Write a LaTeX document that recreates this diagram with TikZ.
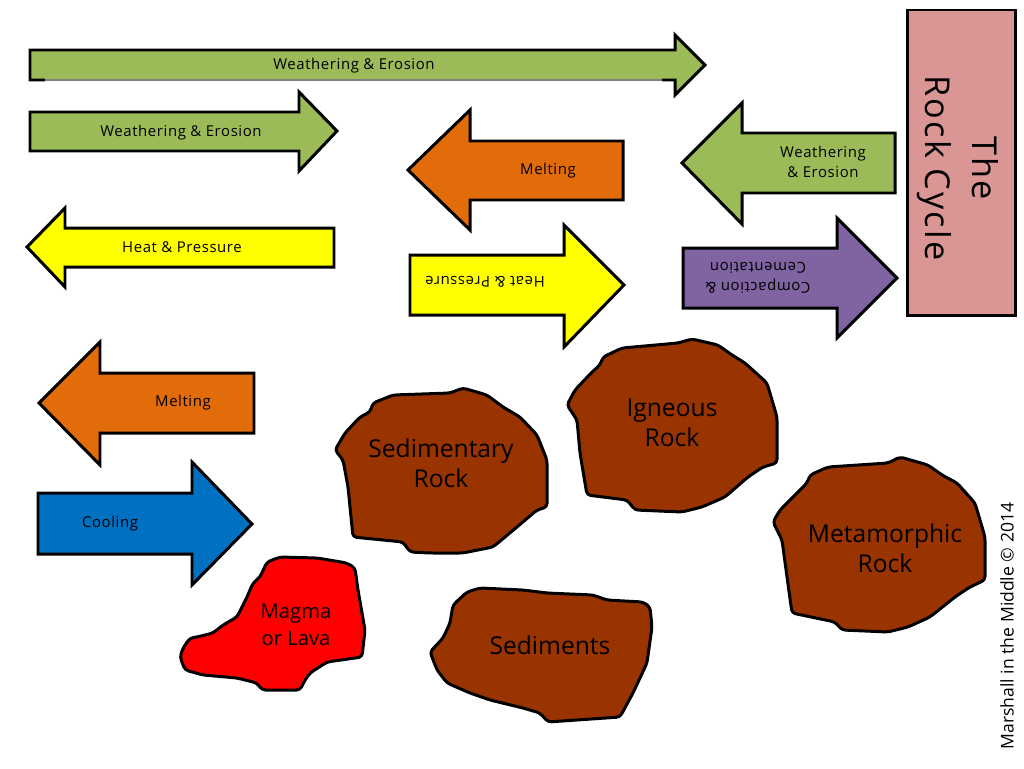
\documentclass[tikz,border=0pt]{standalone}
\usepackage{fontspec}
\setmainfont{Open Sans}
\definecolor{weathergreen}{HTML}{9BBB59}
\definecolor{meltorange}{HTML}{E36C0A}
\definecolor{heatyellow}{HTML}{FFFF00}
\definecolor{compactpurple}{HTML}{8064A2}
\definecolor{coolblue}{HTML}{0070C0}
\definecolor{titlepink}{HTML}{D99694}
\definecolor{rockbrown}{HTML}{993300}
\definecolor{magmared}{HTML}{FF0000}
\begin{document}
\begin{tikzpicture}[
  x=0.02cm, y=-0.02cm,
  every node/.style={align=center, inner sep=0pt},
  arrowbox/.style={draw=black, line width=1.7pt, line join=miter},
  rockbox/.style={draw=black, line width=1.7pt, line join=round, rounded corners=2pt, fill=rockbrown},
  arrowtext/.style={font=\fontsize{8.5}{11}\selectfont\addfontfeature{LetterSpace=4}},
  rocktext/.style={font=\fontsize{14}{17}\selectfont}
]
  \useasboundingbox (0,0) rectangle (1024,768);

  \fill[weathergreen] (30,50)--(675,50)--(675,35)--(705,65)--(675,95)--(675,80)--(30,80)--cycle;
  \draw[line width=1.7pt] (45,80)--(30,80)--(30,50)--(675,50)--(675,35)--(705,65)--(675,95)--(675,80)--(662,80);
  \draw[gray, line width=0.6pt] (45,80)--(662,80);
  \draw[arrowbox, fill=weathergreen] (30,112)--(299,112)--(299,92)--(337,131)--(299,171)--(299,151)--(30,151)--cycle;
  \draw[arrowbox, fill=meltorange] (623,141)--(470,141)--(470,110)--(408,170)--(470,230)--(470,200)--(623,200)--cycle;
  \draw[arrowbox, fill=weathergreen] (895,133)--(742,133)--(742,103)--(682,163)--(742,224)--(742,193)--(895,193)--cycle;
  \draw[arrowbox, fill=heatyellow] (334,228)--(65,228)--(65,208)--(27,247)--(65,287)--(65,267)--(334,267)--cycle;
  \draw[arrowbox, fill=heatyellow] (410,255)--(564,255)--(564,225)--(624,285)--(564,347)--(564,315)--(410,315)--cycle;
  \draw[arrowbox, fill=compactpurple] (683,248)--(837,248)--(837,218)--(897,278)--(837,338)--(837,308)--(683,308)--cycle;
  \draw[arrowbox, fill=meltorange] (254,373)--(100,373)--(100,342)--(39,403)--(100,465)--(100,433)--(254,433)--cycle;
  \draw[arrowbox, fill=coolblue] (38,493)--(192,493)--(192,462)--(252,524)--(192,585)--(192,554)--(38,554)--cycle;

  \node[arrowtext] (weather1) at (354,66) {Weathering \& Erosion};
  \node[arrowtext] (weather2) at (181,133) {Weathering \& Erosion};
  \node[arrowtext] (melt1) at (548,171) {Melting};
  \node[arrowtext] (weather3) at (823,162) {Weathering\\\& Erosion};
  \node[arrowtext] (heat1) at (182,247) {Heat \& Pressure};
  \node[arrowtext, rotate=180] (heat2) at (485,282) {Heat \& Pressure};
  \node[arrowtext, rotate=180] (compact) at (758,278) {Compaction \&\\Cementation};
  \node[arrowtext] (melt2) at (183,403) {Melting};
  \node[arrowtext] (cool) at (110,524) {Cooling};

  \draw[line width=1.7pt, fill=titlepink] (907,10) rectangle (1015,315);
  \node[rotate=-90, font=\fontsize{19.5}{27}\selectfont\addfontfeature{LetterSpace=6}] (title) at (958,168) {The\\Rock Cycle};

  \draw[rockbox] (335,450)--(345,433)--(360,417)--(370,412)--(373,403)--(393,395)--(450,393)--(463,388)--(487,395)--(503,407)--(520,417)--(537,435)--(547,460)--(547,507)--(537,510)--(517,527)--(493,547)--(463,553)--(430,553)--(410,552)--(403,542)--(353,537)--(348,487)--(343,460)--cycle;
  \draw[rockbox] (567,405)--(575,390)--(592,372)--(600,365)--(603,357)--(622,348)--(678,343)--(692,339)--(718,345)--(732,355)--(745,363)--(767,383)--(777,417)--(777,463)--(763,467)--(748,477)--(725,497)--(702,507)--(682,512)--(635,510)--(627,500)--(587,495)--(580,453)--(577,420)--cycle;
  \draw[rockbox] (773,522)--(780,510)--(797,493)--(807,483)--(810,475)--(828,467)--(888,463)--(900,457)--(928,465)--(942,475)--(957,483)--(975,503)--(985,537)--(985,580)--(970,587)--(955,597)--(930,617)--(908,627)--(888,632)--(842,630)--(835,622)--(792,613)--(787,577)--(782,540)--cycle;
  \draw[rockbox] (430,652)--(437,670)--(447,683)--(470,693)--(490,700)--(523,708)--(540,713)--(548,722)--(620,717)--(633,693)--(647,663)--(652,627)--(650,607)--(643,602)--(607,600)--(593,595)--(547,593)--(523,590)--(480,588)--(467,592)--(453,605)--(450,623)--(443,638)--cycle;
  \draw[rockbox, fill=magmared] (190,638)--(183,648)--(180,657)--(185,670)--(203,675)--(237,678)--(257,683)--(262,690)--(300,690)--(305,680)--(310,673)--(327,662)--(362,657)--(365,630)--(358,590)--(355,568)--(347,563)--(317,558)--(280,557)--(267,562)--(260,577)--(253,583)--(247,597)--(237,617)--(223,625)--(213,633)--(197,637)--cycle;

  \node[rocktext] (sedrock) at (441,463) {Sedimentary\\Rock};
  \node[rocktext] (ignrock) at (672,423) {Igneous\\Rock};
  \node[rocktext] (metarock) at (885,548) {Metamorphic\\Rock};
  \node[rocktext] (sediments) at (550,645) {Sediments};
  \node[font=\fontsize{11.5}{15}\selectfont] (magma) at (296,625) {Magma\\or Lava};

  \node[rotate=90, font=\fontsize{10}{12}\selectfont] (credit) at (1007,626) {Marshall in the Middle © 2014};
\end{tikzpicture}
\end{document}
